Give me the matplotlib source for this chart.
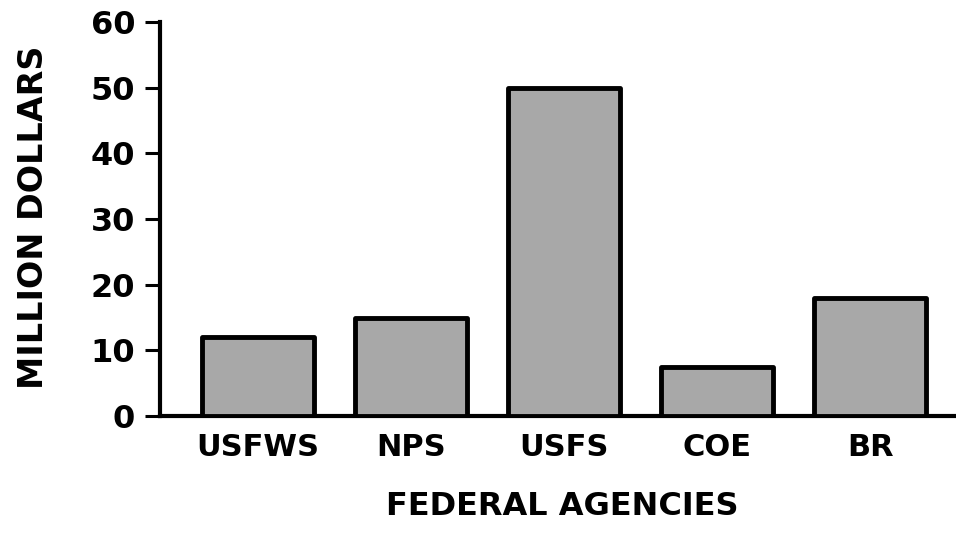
import numpy as np
import matplotlib
matplotlib.use('Agg')
import matplotlib.pyplot as plt

agencies = ['USFWS', 'NPS', 'USFS', 'COE', 'BR']
million_dollars = [12, 15, 50, 7.5, 18]
y_ticks = [0, 10, 20, 30, 40, 50, 60]

plt.rcParams['font.family'] = ['DejaVu Sans']
plt.rcParams['font.weight'] = 'bold'

fig = plt.figure(figsize=(9.56, 5.4), dpi=100)
ax = fig.add_axes([0.1674, 0.2296, 0.8326, 0.7296])

x = np.arange(len(agencies))
ax.bar(x, million_dollars, width=0.73, facecolor='#a8a8a8', edgecolor='black',
       linewidth=3.5, joinstyle='round', zorder=3)

ax.set_xlim(-0.64, 4.56)
ax.set_ylim(0, 60)
ax.set_yticks(y_ticks)
ax.set_xticks(x)
ax.set_xticklabels(agencies, fontsize=22, fontweight='bold')
ax.set_yticklabels([str(v) for v in y_ticks], fontsize=23, fontweight='bold')

ax.tick_params(axis='y', direction='out', length=11, width=2.2, pad=7)
ax.tick_params(axis='x', length=0, pad=12)

for s in ['top', 'right']:
    ax.spines[s].set_visible(False)
for s in ['left', 'bottom']:
    ax.spines[s].set_linewidth(3)

ax.set_ylabel('MILLION DOLLARS', fontsize=24, fontweight='bold')
ax.yaxis.set_label_coords(-0.138, 0.505)
ax.set_xlabel('FEDERAL AGENCIES', fontsize=23, fontweight='bold')
ax.xaxis.set_label_coords(0.505, -0.19)

fig.savefig('out.png', dpi=100)
